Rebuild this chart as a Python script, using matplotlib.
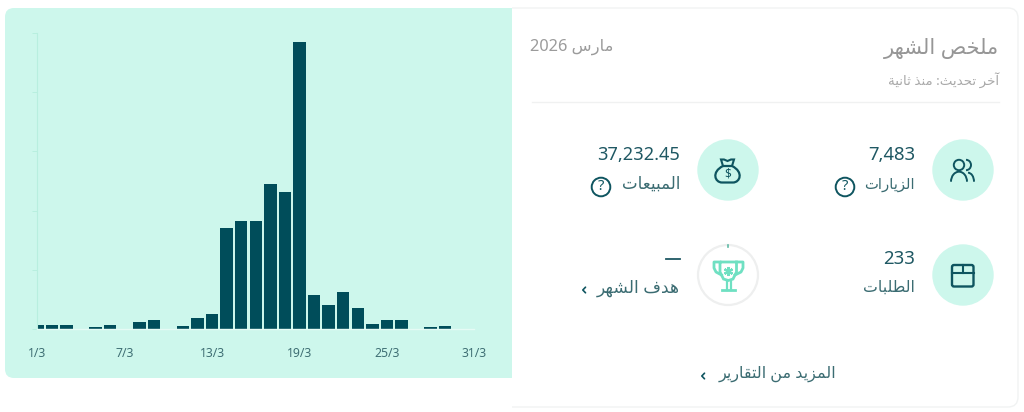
import re
import numpy as np
import matplotlib
matplotlib.use("Agg")
import matplotlib.pyplot as plt
from matplotlib.patches import Circle, FancyBboxPatch, Rectangle, Arc, PathPatch
from matplotlib.path import Path

# ---- data -------------------------------------------------------------
days = list(range(1, 32))
daily_sales = [150, 150, 150, 0, 70, 150, 0, 240, 300, 0, 110, 365, 500, 3430, 3665,
               3665, 4915, 4645, 9680, 1165, 830, 1245, 700, 160, 320, 320, 0, 75, 120, 0, 0]
x_ticks = [1, 7, 13, 19, 25, 31]
x_tick_labels = ["1/3", "7/3", "13/3", "19/3", "25/3", "31/3"]
y_ticks = [0, 2000, 4000, 6000, 8000, 10000]

title = "ملخص الشهر"
period = "مارس 2026"
updated = "آخر تحديث: منذ ثانية"
visits_value, visits_label = "7,483", "الزيارات"
sales_value, sales_label = "37,232.45", "المبيعات"
orders_value, orders_label = "233", "الطلبات"
goal_value, goal_label = "—", "هدف الشهر"
more_label = "المزيد من التقارير"

# ---- Arabic shaping (matplotlib has no bidi / joining of its own) -------
FOUR = {"ب": 0xFE8F, "ت": 0xFE95, "ث": 0xFE99, "ج": 0xFE9D, "ح": 0xFEA1, "خ": 0xFEA5,
        "س": 0xFEB1, "ش": 0xFEB5, "ص": 0xFEB9, "ض": 0xFEBD, "ط": 0xFEC1, "ظ": 0xFEC5,
        "ع": 0xFEC9, "غ": 0xFECD, "ف": 0xFED1, "ق": 0xFED5, "ك": 0xFED9, "ل": 0xFEDD,
        "م": 0xFEE1, "ن": 0xFEE5, "ه": 0xFEE9, "ي": 0xFEF1}
TWO = {"آ": 0xFE81, "ا": 0xFE8D, "ة": 0xFE93, "د": 0xFEA9, "ذ": 0xFEAB, "ر": 0xFEAD,
       "ز": 0xFEAF, "و": 0xFEED, "ى": 0xFEEF}


def shape(s):
    out = []
    for i, c in enumerate(s):
        if c in FOUR or c in TWO:
            prev_joins = i > 0 and s[i - 1] in FOUR
            next_joins = i + 1 < len(s) and (s[i + 1] in FOUR or s[i + 1] in TWO)
            if c in FOUR:
                off = (3 if next_joins else 1) if prev_joins else (2 if next_joins else 0)
                out.append(chr(FOUR[c] + off))
            else:
                out.append(chr(TWO[c] + (1 if prev_joins else 0)))
        else:
            out.append(c)
    rev = "".join(reversed(out))
    return re.sub(r"[0-9]+", lambda m: m.group(0)[::-1], rev)


# ---- figure -------------------------------------------------------------
W, H = 1024, 412
plt.rcParams["font.family"] = ["Noto Sans", "DejaVu Sans"]
fig = plt.figure(figsize=(W / 100, H / 100), dpi=100, facecolor="white")
bg = fig.add_axes([0, 0, 1, 1], zorder=0)
bg.set_xlim(0, W)
bg.set_ylim(H, 0)
bg.axis("off")

MINT = "#CDF7EC"
DARK = "#004D5A"
TEXT = "#1F5863"
LABEL = "#3B6C72"
GREY = "#9B9B9B"

# card and panel
card = FancyBboxPatch((480, 8), 538, 399, boxstyle="round,pad=0,rounding_size=10",
                      fc="white", ec="#F1F3F3", lw=1)
bg.add_patch(card)
card.set_clip_path(Rectangle((512, 0), 520, H, transform=bg.transData))
panel = FancyBboxPatch((5, 8), 540, 370, boxstyle="round,pad=0,rounding_size=9",
                       fc=MINT, ec="none")
bg.add_patch(panel)
panel.set_clip_path(Rectangle((0, 0), 512, H, transform=bg.transData))

# chart
x0, x1, ytop, ybot = 37.3, 474.3, 33, 329.2
ax = fig.add_axes([x0 / W, 1 - ybot / H, (x1 - x0) / W, (ybot - ytop) / H], zorder=1)
ax.patch.set_alpha(0)
ax.bar(days, daily_sales, width=0.86, color=DARK)
ax.set_xlim(1, 31)
ax.set_ylim(0, 10000)
ax.set_xticks(x_ticks, x_tick_labels)
ax.set_yticks(y_ticks, [""] * len(y_ticks))
ax.tick_params(axis="x", length=0, pad=13, labelsize=8.8, labelcolor="#3F6F74")
ax.tick_params(axis="y", length=3.6, width=0.7, color="#B8EFDF")
for s in ("top", "right"):
    ax.spines[s].set_visible(False)
ax.spines["left"].set_color("#B8EFDF")
ax.spines["left"].set_linewidth(0.8)
ax.spines["bottom"].set_color("#E6FBF5")
ax.spines["bottom"].set_linewidth(1)


def txt(x, y, s, size, color, ha="right", **kw):
    bg.text(x, y, s, fontsize=size, color=color, ha=ha, va="center", **kw)


# header
txt(999, 48, shape(title), 15.2, "#969696")
txt(613, 47, shape(period), 11.8, GREY)
txt(999, 80, shape(updated), 9.6, "#A8A8A8")
bg.plot([532, 999], [102, 102], color="#F0F1F1", lw=1)

# metrics
txt(915, 155.5, visits_value, 13.3, TEXT, fontweight="medium")
txt(680, 155.5, sales_value, 13.1, TEXT, fontweight="medium")
txt(915, 259, orders_value, 13.3, TEXT, fontweight="medium")
txt(915, 185, shape(visits_label), 10.6, LABEL)
txt(680, 185, shape(sales_label), 12, LABEL)
txt(915, 288, shape(orders_label), 11.3, LABEL)
txt(680, 288, shape(goal_label), 12.3, LABEL)
bg.plot([666, 680], [259, 259], color=TEXT, lw=1.3)
txt(836, 374, shape(more_label), 11.5, LABEL)

ICON = "#0F5560"
for cx, cy in [(963, 170), (728, 170), (963, 275)]:
    bg.add_patch(Circle((cx, cy), 30.7, fc=MINT, ec="none"))
bg.add_patch(Circle((728, 275), 30, fc="white", ec="#EEEFEF", lw=1.6))
bg.plot([728, 728], [244.5, 246.5], color="#5FB9A5", lw=1.2)

# help icons
for cx in (845, 601):
    bg.add_patch(Circle((cx, 187), 9.3, fc="none", ec=ICON, lw=1.4))
    bg.text(cx, 186.6, "?", fontsize=10.5, fontweight="bold", color=ICON, ha="center", va="center")

# chevrons
for cx, cy in [(584, 290), (703, 376)]:
    bg.plot([cx + 1.5, cx - 1.2, cx + 1.5], [cy - 2.8, cy, cy + 2.8], color=ICON, lw=1.2,
            solid_capstyle="round", solid_joinstyle="round")

# people icon
lw = 1.4
bg.add_patch(Circle((959, 165), 5.2, fc="none", ec=ICON, lw=lw))
bg.add_patch(Arc((959, 181.7), 16, 20, theta1=180, theta2=360, ec=ICON, lw=lw))
bg.add_patch(Arc((966, 165), 10, 10.4, theta1=-90, theta2=90, ec=ICON, lw=lw))
bg.add_patch(Arc((968, 181.7), 12, 18, theta1=270, theta2=360, ec=ICON, lw=lw))

# box icon
bg.add_patch(FancyBboxPatch((952, 265), 21.5, 21.5, boxstyle="round,pad=0,rounding_size=2",
                            fc="none", ec=ICON, lw=1.7))
bg.plot([952, 973.5], [273.3, 273.3], color=ICON, lw=1.5)
bg.plot([962.7, 962.7], [265, 273.3], color=ICON, lw=1.5)

# money bag icon
body = Path([(723, 166), (711, 172), (715, 182.5), (722, 182.5),
             (733, 182.5),
             (740, 182.5), (744, 172), (732, 166),
             (723, 166)],
            [Path.MOVETO, Path.CURVE4, Path.CURVE4, Path.CURVE4,
             Path.LINETO,
             Path.CURVE4, Path.CURVE4, Path.CURVE4,
             Path.LINETO])
bg.add_patch(PathPatch(body, fc="none", ec=ICON, lw=1.6))
neck = Path([(723, 166), (721, 159.5), (724, 159.5), (727.5, 161), (731, 159.5), (734, 159.5), (732, 166)])
bg.add_patch(PathPatch(neck, fc="none", ec=ICON, lw=1.5))
bg.text(727.7, 173.8, "$", fontsize=8.5, fontweight="bold", color=ICON, ha="center", va="center")

# trophy icon
TR = "#6FE0C2"
cup = Path([(720, 262), (736.5, 262), (736.5, 272), (733, 279), (728.3, 280.5), (723.5, 279), (720, 272), (720, 262)])
bg.add_patch(PathPatch(cup, fc="none", ec=TR, lw=2))
bg.plot([720, 714, 714, 716, 721.5], [262, 262, 268, 272, 275], color=TR, lw=2)
bg.plot([736.5, 743, 743, 741, 735], [262, 262, 268, 272, 275], color=TR, lw=2)
bg.plot([726.5, 726.5], [281, 289.5], color=TR, lw=1.6)
bg.plot([730.5, 730.5], [281, 289.5], color=TR, lw=1.6)
bg.plot([722, 735], [290, 290], color=TR, lw=2)
bg.plot([728.3], [270.5], marker=(6, 2, 0), ms=6.5, mew=1.6, color=TR, ls="none")

fig.savefig("out.png", dpi=100, facecolor="white")
